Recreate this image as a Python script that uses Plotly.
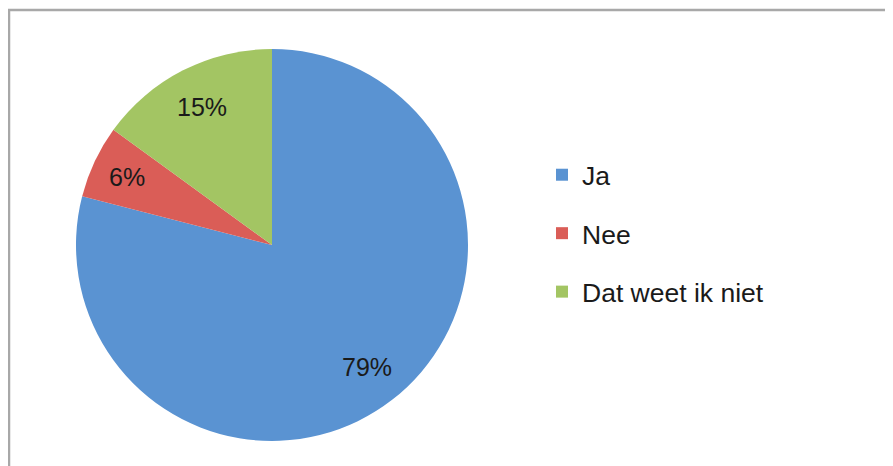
"""Pie chart: Ja / Nee / Dat weet ik niet (Plotly)."""

import math

import plotly.graph_objects as go

W, H = 893, 466
OFF = 8  # page body margin in front of the figure

labels = ["Ja", "Nee", "Dat weet ik niet"]
values = [79, 6, 15]
colors = ["#5A93D2", "#DA5D57", "#A3C563"]
label_radius = [0.79, 0.82, 0.79]  # fraction of pie radius for the % labels

FONT = "Liberation Sans, Arial, sans-serif"

# pie geometry in figure pixels
cx, cy, R = 272 - OFF, 245 - OFF, 196

fig = go.Figure()
fig.add_trace(go.Pie(
    labels=labels,
    values=values,
    sort=False,
    direction="clockwise",
    rotation=0,
    marker=dict(colors=colors, line=dict(color="white", width=0)),
    textinfo="none",
    domain=dict(x=[(cx - R) / W, (cx + R) / W], y=[1 - (cy + R) / H, 1 - (cy - R) / H]),
    showlegend=False,
    hoverinfo="label+percent",
))

# percentage labels placed at each slice's middle angle
total = sum(values)
annotations = []
acc = 0
for v, rf in zip(values, label_radius):
    mid = (acc + v / 2) / total * 2 * math.pi
    acc += v
    px = cx + math.sin(mid) * R * rf
    py = cy - math.cos(mid) * R * rf
    annotations.append(dict(
        x=px / W, y=1 - py / H, xref="paper", yref="paper",
        xanchor="center", yanchor="middle",
        text=f"{round(v / total * 100)}%", showarrow=False,
        font=dict(family=FONT, size=25, color="#1a1a1a"),
    ))

# legend entries as dummy square markers so the rows can be spaced out
for lab, col in zip(labels, colors):
    fig.add_trace(go.Scatter(
        x=[None], y=[None], mode="markers", name=lab, legendgroup=lab,
        marker=dict(symbol="square", size=12, color=col),
    ))

fig.update_layout(
    width=W, height=H,
    margin=dict(l=0, r=0, t=0, b=0),
    paper_bgcolor="white",
    plot_bgcolor="white",
    xaxis=dict(visible=False),
    yaxis=dict(visible=False),
    font=dict(family=FONT, size=26.5, color="#1a1a1a"),
    legend=dict(
        x=(545 - OFF - 3) / W, y=1 - (160 - 17) / H, xanchor="left", yanchor="top",
        tracegroupgap=21, itemwidth=30,
        font=dict(family=FONT, size=26.5, color="#1a1a1a"),
        bgcolor="rgba(0,0,0,0)",
    ),
    annotations=annotations,
    shapes=[dict(
        type="rect", xref="paper", yref="paper",
        x0=1 / W, x1=1.02, y0=-0.02, y1=1 - 2 / H,
        line=dict(color="#A8A8A8", width=2.5),
        fillcolor="rgba(0,0,0,0)", layer="below",
    )],
)

fig.write_html("out.html")
